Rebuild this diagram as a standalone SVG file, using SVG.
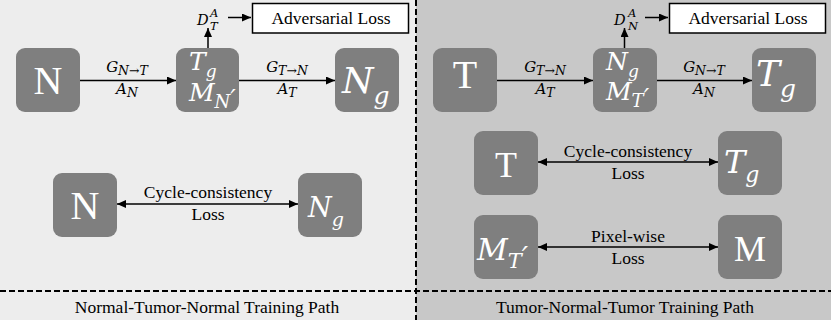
<svg xmlns="http://www.w3.org/2000/svg" width="831" height="320" viewBox="0 0 831 320">
<defs>
<marker id="ah" markerUnits="userSpaceOnUse" markerWidth="9" markerHeight="8" refX="9" refY="4" orient="auto-start-reverse">
<path d="M0,0 L9,4 L0,8 z" fill="#000"/>
</marker>
<style>
.node{fill:#7f7f7f}
.plain{font-family:"Liberation Serif",serif;fill:#fff;text-anchor:middle}
.math{font-family:"DejaVu Serif",serif;font-style:italic;fill:#fff}
.lbl{font-family:"DejaVu Serif",serif;font-style:italic;fill:#000;font-size:15px;text-anchor:middle}
.dlbl{font-family:"DejaVu Serif",serif;font-style:italic;fill:#000;font-size:14.5px}
.txt{font-family:"Liberation Serif",serif;fill:#000;font-size:17.5px;text-anchor:middle}
.edge{stroke:#000;stroke-width:1.5;fill:none}
.dash{stroke:#000;stroke-width:2;stroke-dasharray:6 3;fill:none}
</style>
</defs>
<rect x="0" y="0" width="416" height="320" fill="#ededed"/>
<rect x="416" y="0" width="415" height="320" fill="#c8c8c8"/>
<line class="dash" x1="416" y1="0" x2="416" y2="320"/>
<line class="dash" x1="0" y1="291" x2="831" y2="291"/>

<g id="n-left-N">
<rect class="node" x="16" y="48" width="64" height="64" rx="9"/>
<text class="plain" x="48" y="94" font-size="40">N</text>
</g>
<g id="n-left-Tg">
<rect class="node" x="176" y="48" width="63" height="64" rx="9"/>
<text class="math" font-size="25"><tspan x="189" y="70">T</tspan><tspan font-size="17" dy="7">g</tspan><tspan x="189" y="101">M</tspan><tspan font-size="18" dy="7">N</tspan><tspan font-size="24" dy="-1">′</tspan></text>
</g>
<g id="n-left-Ng">
<rect class="node" x="335" y="48" width="64" height="64" rx="9"/>
<text class="math" x="342" y="93" font-size="36">N<tspan font-size="25" dy="11">g</tspan></text>
</g>
<g id="adv-left">
<rect x="252.5" y="3.5" width="156" height="29.5" fill="#fff" stroke="#000" stroke-width="1.5"/>
<text class="txt" x="331" y="24">Adversarial Loss</text>
<text class="dlbl"><tspan x="197" y="25">D</tspan><tspan x="210" y="17" font-size="11.5">A</tspan><tspan x="210" y="30" font-size="11.5">T</tspan></text>
</g>

<g id="n-right-T">
<rect class="node" x="433" y="48" width="64" height="64" rx="9"/>
<text class="plain" x="465" y="88" font-size="40">T</text>
</g>
<g id="n-right-Ng">
<rect class="node" x="593" y="48" width="64" height="64" rx="9"/>
<text class="math" font-size="25"><tspan x="606" y="70">N</tspan><tspan font-size="17" dy="7">g</tspan><tspan x="606" y="100">M</tspan><tspan font-size="18" dy="7">T</tspan><tspan font-size="24" dy="-1">′</tspan></text>
</g>
<g id="n-right-Tg">
<rect class="node" x="752" y="48" width="64" height="64" rx="9"/>
<text class="math" x="756" y="86" font-size="36">T<tspan font-size="25" dy="11">g</tspan></text>
</g>
<g id="adv-right">
<rect x="669.5" y="3.5" width="156" height="29.5" fill="#fff" stroke="#000" stroke-width="1.5"/>
<text class="txt" x="748" y="24">Adversarial Loss</text>
<text class="dlbl"><tspan x="614" y="25">D</tspan><tspan x="628" y="17" font-size="11.5">A</tspan><tspan x="628" y="30" font-size="11.5">N</tspan></text>
</g>

<g id="n-bl-N">
<rect class="node" x="53" y="173" width="64" height="64" rx="9"/>
<text class="plain" x="85" y="219" font-size="40">N</text>
</g>
<g id="n-bl-Ng">
<rect class="node" x="298" y="173" width="64" height="64" rx="9"/>
<text class="math" x="308" y="217" font-size="27">N<tspan font-size="19" dy="9">g</tspan></text>
</g>

<g id="n-br-T">
<rect class="node" x="474" y="131" width="64" height="64" rx="9"/>
<text class="plain" x="506" y="177" font-size="36">T</text>
</g>
<g id="n-br-Tg">
<rect class="node" x="718" y="131" width="64" height="64" rx="9"/>
<text class="math" x="724" y="173" font-size="32">T<tspan font-size="22" dy="9">g</tspan></text>
</g>
<g id="n-br-MT">
<rect class="node" x="474" y="215" width="64" height="64" rx="9"/>
<text class="math" x="477" y="260" font-size="30">M<tspan font-size="21" dy="8">T</tspan><tspan font-size="28" dy="-1">′</tspan></text>
</g>
<g id="n-br-M">
<rect class="node" x="718" y="215" width="64" height="64" rx="9"/>
<text class="plain" x="750" y="261" font-size="36">M</text>
</g>

<g id="connectors">
<line class="edge" x1="80" y1="80.5" x2="176" y2="80.5" marker-end="url(#ah)"/>
<line class="edge" x1="239" y1="80.5" x2="335" y2="80.5" marker-end="url(#ah)"/>
<line class="edge" x1="208" y1="48" x2="208" y2="28" marker-end="url(#ah)"/>
<line class="edge" x1="228" y1="17.5" x2="251" y2="17.5" marker-end="url(#ah)"/>
<line class="edge" x1="497" y1="80.5" x2="593" y2="80.5" marker-end="url(#ah)"/>
<line class="edge" x1="657" y1="80.5" x2="752" y2="80.5" marker-end="url(#ah)"/>
<line class="edge" x1="624.5" y1="48" x2="624.5" y2="28" marker-end="url(#ah)"/>
<line class="edge" x1="645" y1="17.5" x2="668" y2="17.5" marker-end="url(#ah)"/>
<line class="edge" x1="117" y1="204" x2="298" y2="204" marker-start="url(#ah)" marker-end="url(#ah)"/>
<line class="edge" x1="538" y1="162" x2="718" y2="162" marker-start="url(#ah)" marker-end="url(#ah)"/>
<line class="edge" x1="538" y1="247" x2="718" y2="247" marker-start="url(#ah)" marker-end="url(#ah)"/>

<text class="lbl" x="127" y="72">G<tspan font-size="12.5" dy="3">N→T</tspan></text>
<text class="lbl" x="127" y="94">A<tspan font-size="12.5" dy="3">N</tspan></text>
<text class="lbl" x="287" y="72">G<tspan font-size="12.5" dy="3">T→N</tspan></text>
<text class="lbl" x="287" y="94">A<tspan font-size="12.5" dy="3">T</tspan></text>
<text class="lbl" x="545" y="72">G<tspan font-size="12.5" dy="3">T→N</tspan></text>
<text class="lbl" x="545" y="94">A<tspan font-size="12.5" dy="3">T</tspan></text>
<text class="lbl" x="704" y="72">G<tspan font-size="12.5" dy="3">N→T</tspan></text>
<text class="lbl" x="704" y="94">A<tspan font-size="12.5" dy="3">N</tspan></text>

<text class="txt" x="208" y="198">Cycle-consistency</text>
<text class="txt" x="208" y="220">Loss</text>
<text class="txt" x="628" y="157">Cycle-consistency</text>
<text class="txt" x="628" y="179">Loss</text>
<text class="txt" x="628" y="242">Pixel-wise</text>
<text class="txt" x="628" y="264">Loss</text>
</g>

<text class="txt" x="207" y="313" font-size="18">Normal-Tumor-Normal Training Path</text>
<text class="txt" x="625" y="313" font-size="18">Tumor-Normal-Tumor Training Path</text>
</svg>
